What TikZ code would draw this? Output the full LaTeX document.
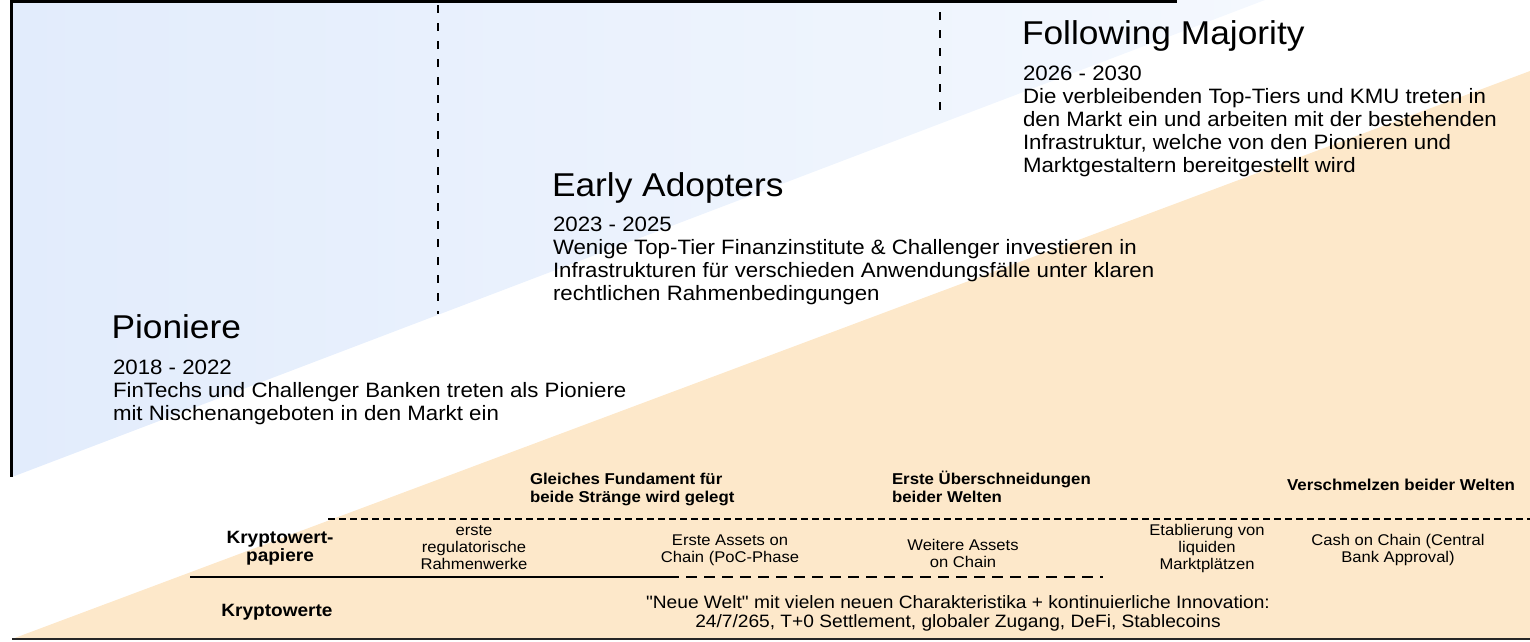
\documentclass[tikz,border=0pt]{standalone}
\usepackage{fontspec}
\setmainfont[FakeStretch=1.07, Ligatures=TeXOff]{Liberation Sans}
\newcommand\myts{\rule{0pt}{1em}}
\definecolor{blueL}{RGB}{226,236,252}
\definecolor{blueM}{RGB}{212,228,250}
\definecolor{blueR}{RGB}{244,248,254}
\definecolor{orng}{RGB}{253,232,202}
\begin{document}
\begin{tikzpicture}[x=1pt,y=-1pt,
  every node/.style={inner sep=0pt, outer sep=0pt, text=black},
  title/.style={anchor=base west, font=\fontsize{33}{36}\selectfont},
  body/.style={anchor=north west, align=left, font=\fontsize{20.8}{23}\selectfont},
  head/.style={anchor=north west, align=left, font=\fontsize{15.7}{18}\selectfont\bfseries},
  headone/.style={anchor=base west, font=\fontsize{15.8}{18}\selectfont\bfseries},
  rowlab/.style={anchor=north, align=center, font=\fontsize{17.8}{18}\selectfont\bfseries},
  rowone/.style={anchor=base, font=\fontsize{17.8}{18}\selectfont\bfseries},
  small/.style={anchor=north, align=center, font=\fontsize{15.5}{17}\selectfont},
  wide/.style={anchor=north, align=center, font=\fontsize{17.9}{19}\selectfont},
  vdash/.style={line width=2.5pt, dash pattern=on 8pt off 10pt},
  hdash/.style={line width=2.8pt, dash pattern=on 7pt off 4pt},
  ldash/.style={line width=2.8pt, dash pattern=on 11pt off 7pt},
  frame/.style={line width=3pt, black},
]
\useasboundingbox (0,0) rectangle (1530,641);
% background areas
\shade[left color=blueL, middle color=blueM, right color=blueR] (12,0) -- (1265,0) -- (12,477) -- cycle;
\fill[orng] (12,639) -- (1530,71) -- (1530,639) -- cycle;
% frame lines
\draw[frame] (10,1.5) -- (1177,1.5);
\draw[frame] (11.5,0) -- (11.5,477);
\draw[vdash] (438,5) -- (438,314);
\draw[vdash] (940,12) -- (940,116);
% phase texts
\node[title] (pio) at (111.5,338) {Pioniere};
\node[body] (piotxt) at (113,353.5) {\myts 2018 - 2022\\FinTechs und Challenger Banken treten als Pioniere\\mit Nischenangeboten in den Markt ein};
\node[title] (early) at (552,196.5) {Early Adopters};
\node[body] (earlytxt) at (553,211) {\myts 2023 - 2025\\Wenige Top-Tier Finanzinstitute \& Challenger investieren in\\Infrastrukturen für verschieden Anwendungsfälle unter klaren\\rechtlichen Rahmenbedingungen};
\node[title] (follow) at (1022,44.5) {Following Majority};
\node[body] (followtxt) at (1023,60) {\myts 2026 - 2030\\Die verbleibenden Top-Tiers und KMU treten in\\den Markt ein und arbeiten mit der bestehenden\\Infrastruktur, welche von den Pionieren und\\Marktgestaltern bereitgestellt wird};
% bottom table lines
\draw[hdash] (328,519) -- (1530,519);
\draw[line width=2.8pt] (190,577) -- (668,577);
\draw[ldash] (668,577) -- (1103,577);
\draw[line width=1.6pt, black!85] (12,639) -- (1530,639);
% headers
\node[head] (h1) at (530,468.3) {\myts Gleiches Fundament für\\beide Stränge wird gelegt};
\node[head] (h2) at (892,468.3) {\myts Erste Überschneidungen\\beider Welten};
\node[headone] (h3) at (1287,490) {Verschmelzen beider Welten};
% row labels
\node[rowlab] (r1) at (280,525.2) {\myts Kryptowert-\\papiere};
\node[rowone] (r2) at (277,616) {Kryptowerte};
% cells
\node[small] (c1) at (474,519.5) {\myts erste\\regulatorische\\Rahmenwerke};
\node[small] (c2) at (730,529.5) {\myts Erste Assets on\\Chain (PoC-Phase};
\node[small] (c3) at (963,534.5) {\myts Weitere Assets\\on Chain};
\node[small] (c4) at (1207,519.5) {\myts Etablierung von\\liquiden\\Marktplätzen};
\node[small] (c5) at (1398,529.5) {\myts Cash on Chain (Central\\Bank Approval)};
\node[wide] (c6) at (958,590.5) {\myts "Neue Welt" mit vielen neuen Charakteristika + kontinuierliche Innovation:\\24/7/265, T+0 Settlement, globaler Zugang, DeFi, Stablecoins};
\end{tikzpicture}
\end{document}
